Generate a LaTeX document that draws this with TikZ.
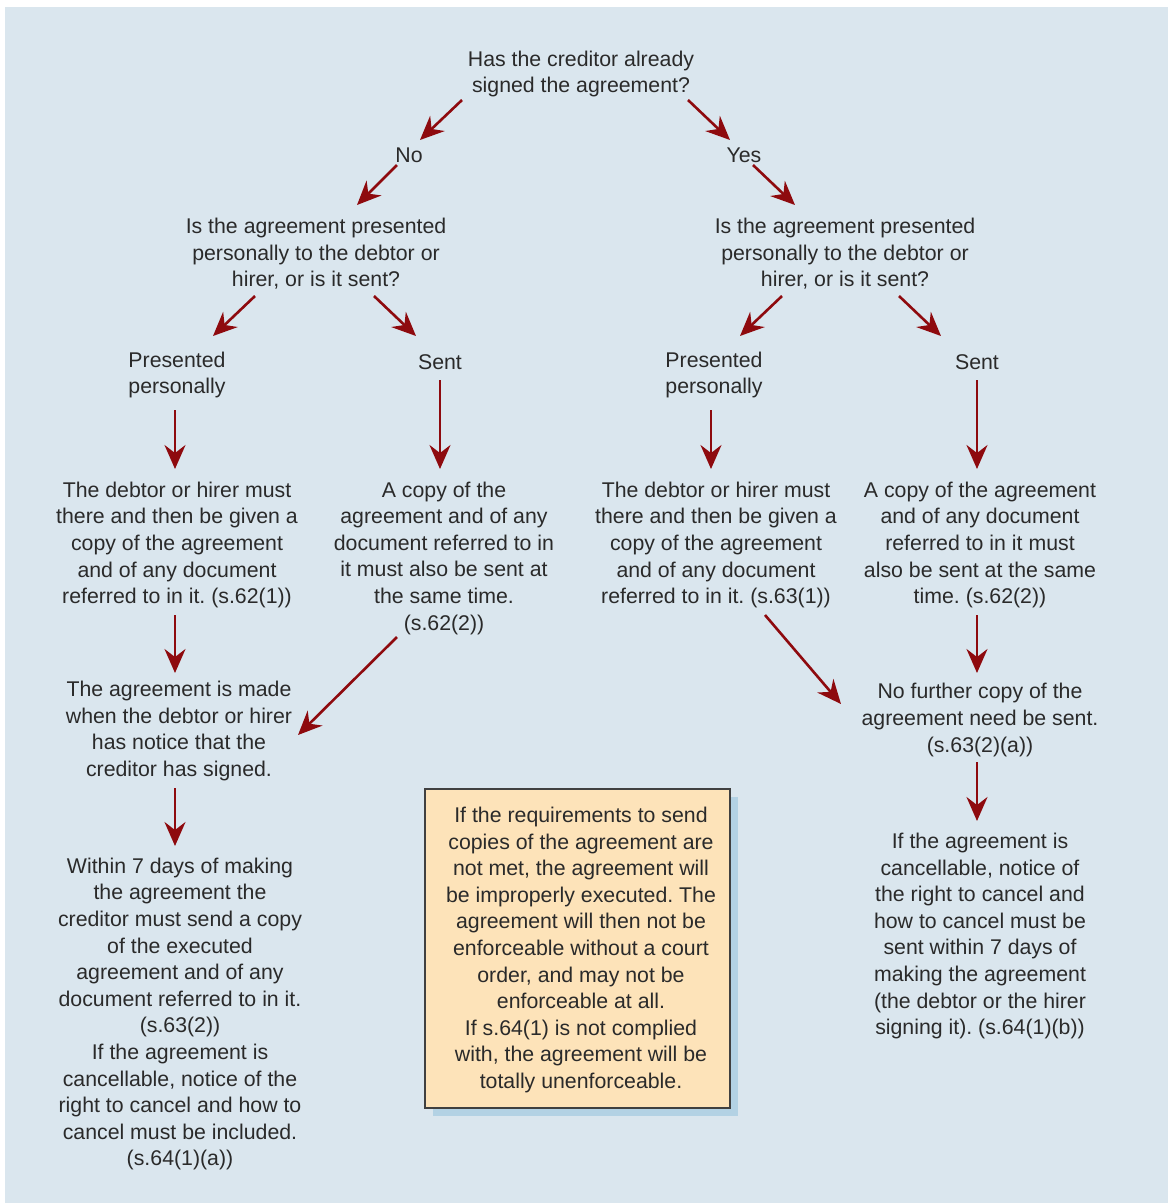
\documentclass[tikz,border=0pt]{standalone}
\usepackage{fontspec}
\setmainfont{Liberation Sans}
\usetikzlibrary{arrows.meta,calc}
\definecolor{bgblue}{HTML}{DAE6EE}
\definecolor{arrowred}{HTML}{8E0A0E}
\definecolor{txt}{HTML}{2A2A2A}
\definecolor{notefill}{HTML}{FDE3B9}
\definecolor{noteshadow}{HTML}{B3D2E4}
\frenchspacing
\begin{document}
\begin{tikzpicture}[x=1pt,y=-1pt,
  lbl/.style={align=center,inner sep=0pt,text=txt,font=\fontsize{21.3}{26.6}\selectfont},
  arr/.style={draw=arrowred,line width=2.6pt,-{Stealth[length=24pt,width=21pt,inset=8pt]}}]
\useasboundingbox (0,0) rectangle (1168,1203);
\fill[bgblue] (5,7) rectangle (1168,1203);

% question at the top and the two answers
\node[lbl] (q1) at (581,74) {Has the creditor already\\signed the agreement?};
\node[lbl] (no) at (409,155) {No};
\node[lbl] (yes) at (744,155) {Yes};

% second question on each side
\node[lbl] (q2l) at (316,254) {Is the agreement presented\\personally to the debtor or\\hirer, or is it sent?};
\node[lbl] (q2r) at (845,254) {Is the agreement presented\\personally to the debtor or\\hirer, or is it sent?};

\node[lbl] (pl) at (177,375) {Presented\\personally};
\node[lbl] (sl) at (440,362) {Sent};
\node[lbl] (pr) at (714,375) {Presented\\personally};
\node[lbl] (sr) at (977,362) {Sent};

% consequences
\node[lbl] (l1) at (177,545) {The debtor or hirer must\\there and then be given a\\copy of the agreement\\and of any document\\referred to in it. (s.62(1))};
\node[lbl] (l2) at (444,558) {A copy of the\\agreement and of any\\document referred to in\\it must also be sent at\\the same time.\\(s.62(2))};
\node[lbl] (r1) at (716,545) {The debtor or hirer must\\there and then be given a\\copy of the agreement\\and of any document\\referred to in it. (s.63(1))};
\node[lbl] (r2) at (980,545) {A copy of the agreement\\and of any document\\referred to in it must\\also be sent at the same\\time. (s.62(2))};

\node[lbl] (l3) at (179,731) {The agreement is made\\when the debtor or hirer\\has notice that the\\creditor has signed.};
\node[lbl] (l4) at (180,1014) {Within 7 days of making\\the agreement the\\creditor must send a copy\\of the executed\\agreement and of any\\document referred to in it.\\(s.63(2))\\If the agreement is\\cancellable, notice of the\\right to cancel and how to\\cancel must be included.\\(s.64(1)(a))};

\node[lbl] (r3) at (980,720) {No further copy of the\\agreement need be sent.\\(s.63(2)(a))};
\node[lbl] (r4) at (980,936) {If the agreement is\\cancellable, notice of\\the right to cancel and\\how to cancel must be\\sent within 7 days of\\making the agreement\\(the debtor or the hirer\\signing it). (s.64(1)(b))};

% note box with its shadow
\fill[noteshadow] (433,797) rectangle (738,1116);
\draw[fill=notefill,draw=black!75,line width=1.2pt] (425,789) rectangle (730,1108);
\node[lbl] (note) at (581,950) {If the requirements to send\\copies of the agreement are\\not met, the agreement will\\be improperly executed. The\\agreement will then not be\\enforceable without a court\\order, and may not be\\enforceable at all.\\If s.64(1) is not complied\\with, the agreement will be\\totally unenforceable.};

% connectors
\draw[arr] ($(q1)+(-119,26)$) -- ($(no)+(11,-15)$);
\draw[arr] ($(q1)+(107,26)$) -- ($(yes)+(-14,-15)$);
\draw[arr] ($(no)+(-12,10)$) -- ($(q2l)+(41,-49)$);
\draw[arr] ($(yes)+(9,10)$) -- ($(q2r)+(-50,-49)$);

\draw[arr] ($(q2l)+(-61,42)$) -- ($(pl)+(36,-39)$);
\draw[arr] ($(q2l)+(58,42)$) -- ($(sl)+(-24,-26)$);
\draw[arr] ($(q2r)+(-63,42)$) -- ($(pr)+(26,-39)$);
\draw[arr] ($(q2r)+(54,42)$) -- ($(sr)+(-36,-26)$);

\draw[arr] ($(pl)+(-2,35)$) -- ($(l1)+(-2,-76)$);
\draw[arr] ($(sl)+(0,18)$) -- ($(l2)+(-4,-89)$);
\draw[arr] ($(pr)+(-3,35)$) -- ($(r1)+(-5,-76)$);
\draw[arr] ($(sr)+(0,18)$) -- ($(r2)+(-3,-76)$);

\draw[arr] ($(l1)+(-2,70)$) -- ($(l3)+(-4,-58)$);
\draw[arr] ($(l2)+(-47,79)$) -- ($(l3)+(119,4)$);
\draw[arr] ($(r1)+(49,70)$) -- ($(r3)+(-139,-16)$);
\draw[arr] ($(r2)+(-3,70)$) -- ($(r3)+(-3,-47)$);

\draw[arr] ($(l3)+(-4,57)$) -- ($(l4)+(-5,-168)$);
\draw[arr] ($(r3)+(-3,42)$) -- ($(r4)+(-3,-115)$);
\end{tikzpicture}
\end{document}
